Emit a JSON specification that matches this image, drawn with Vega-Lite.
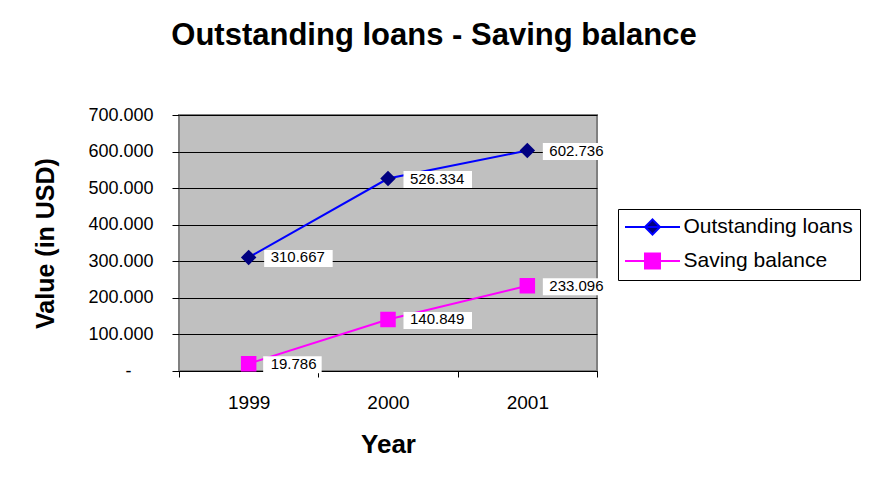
{
  "$schema": "https://vega.github.io/schema/vega-lite/v6.json",
  "width": 418,
  "height": 256,
  "autosize": {"type": "none"},
  "padding": {"left": 179, "top": 115, "right": 272, "bottom": 121},
  "background": "white",
  "title": {
    "text": "Outstanding loans - Saving balance",
    "fontSize": 31,
    "fontWeight": "bold",
    "font": "Liberation Sans",
    "anchor": "middle",
    "dx": 46,
    "offset": 30,
    "baseline": "alphabetic",
    "color": "black"
  },
  "data": {
    "values": [
      {"year": "1999", "series": "Outstanding loans", "value": 310667},
      {"year": "2000", "series": "Outstanding loans", "value": 526334},
      {"year": "2001", "series": "Outstanding loans", "value": 602736},
      {"year": "1999", "series": "Saving balance", "value": 19786},
      {"year": "2000", "series": "Saving balance", "value": 140849},
      {"year": "2001", "series": "Saving balance", "value": 233096}
    ]
  },
  "encoding": {
    "x": {
      "field": "year",
      "type": "ordinal",
      "bandPosition": 0.5,
      "scale": {"type": "band", "paddingInner": 0, "paddingOuter": 0},
      "axis": {
        "title": "Year",
        "titleFont": "Liberation Sans",
        "titleFontSize": 26,
        "titleFontWeight": "bold",
        "titleColor": "black",
        "titlePadding": 19,
        "labelAngle": 0,
        "labelFont": "Liberation Sans",
        "labelFontSize": 19,
        "labelColor": "black",
        "labelPadding": 16,
        "tickBand": "extent",
        "tickSize": 6,
        "tickColor": "black",
        "domainColor": "black",
        "grid": false
      }
    },
    "y": {
      "field": "value",
      "type": "quantitative",
      "scale": {"domain": [0, 700000], "nice": false},
      "axis": {
        "title": "Value (in USD)",
        "titleFont": "Liberation Sans",
        "titleFontSize": 25,
        "titleFontWeight": "bold",
        "titleColor": "black",
        "titlePadding": 29,
        "values": [0, 100000, 200000, 300000, 400000, 500000, 600000, 700000],
        "format": ",.0f",
        "labelExpr": "datum.value == 0 ? '-' : datum.label",
        "labelFont": "Liberation Sans",
        "labelFontSize": 18,
        "labelColor": "black",
        "labelPadding": {"condition": {"test": "datum.value == 0", "value": 41}, "value": 19},
        "tickSize": 7,
        "tickColor": "black",
        "domain": false,
        "grid": true,
        "gridColor": "black",
        "gridOpacity": 1,
        "gridWidth": 1
      }
    }
  },
  "layer": [
    {
      "mark": {"type": "line", "strokeWidth": 2},
      "encoding": {
        "color": {
          "field": "series",
          "type": "nominal",
          "scale": {"domain": ["Outstanding loans", "Saving balance"], "range": ["#0000FF", "#FF00FF"]},
          "legend": {
            "title": null,
            "orient": "none",
            "legendX": 439,
            "legendY": 94,
            "strokeColor": "black",
            "fillColor": "white",
            "padding": 7,
            "symbolSize": 400,
            "symbolStrokeWidth": 2,
            "symbolOffset": 16.5,
            "labelOffset": 20,
            "rowPadding": 10,
            "labelFont": "Liberation Sans",
            "labelFontSize": 21,
            "labelColor": "black",
            "labelLimit": 400,
            "encode": {
              "symbols": {
                "update": {
                  "shape": {"signal": "datum.value === 'Outstanding loans' ? 'M-2.75,0H2.75M0,-0.75L0.75,0L0,0.75L-0.75,0Z' : 'M-2.75,0H2.75M-0.75,-0.75H0.75V0.75H-0.75Z'"},
                  "fill": {"signal": "datum.value === 'Outstanding loans' ? '#000080' : '#FF00FF'"},
                  "stroke": {"signal": "datum.value === 'Outstanding loans' ? '#0000FF' : '#FF00FF'"},
                  "size": {"value": 400},
                  "strokeWidth": {"value": 2},
                  "fillOpacity": {"value": 1},
                  "strokeOpacity": {"value": 1},
                  "opacity": {"value": 1}
                }
              }
            }
          }
        }
      }
    },
    {
      "mark": {"type": "point", "filled": true, "size": 400, "color": "white", "opacity": 1, "strokeWidth": 0},
      "encoding": {
        "shape": {
          "condition": {"test": "datum.value < 100000", "value": "M1.45,-0.75H7.3V0.95H1.45Z"},
          "value": "M1.55,-0.75H8.4V0.95H1.55Z"
        }
      }
    },
    {
      "mark": {"type": "text", "align": "left", "baseline": "middle", "dx": 22, "fontSize": 15, "font": "Liberation Sans", "color": "black"},
      "encoding": {
        "text": {"field": "value", "type": "quantitative", "format": ",.0f"}
      }
    },
    {
      "mark": {"type": "point", "filled": true, "size": 240, "opacity": 1, "strokeOpacity": 0},
      "encoding": {
        "shape": {
          "condition": {"test": "datum.series === 'Outstanding loans'", "value": "diamond"},
          "value": "square"
        },
        "fill": {
          "condition": {"test": "datum.series === 'Outstanding loans'", "value": "#000080"},
          "value": "#FF00FF"
        }
      }
    }
  ],
  "config": {
    "locale": {"number": {"decimal": ",", "thousands": ".", "grouping": [3], "currency": ["$", ""]}},
    "view": {"fill": "#C0C0C0", "stroke": "#808080", "strokeWidth": 2},
    "font": "Liberation Sans"
  }
}
